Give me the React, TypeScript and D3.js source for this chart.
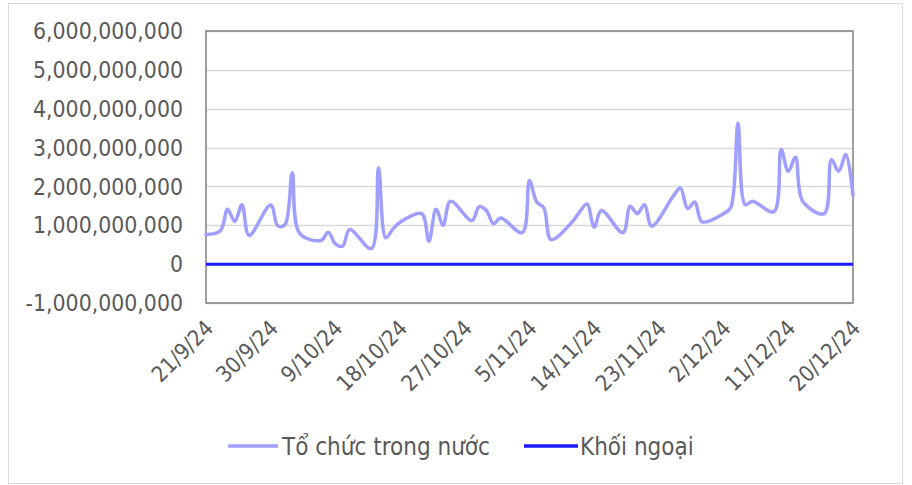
import React from 'react';
import * as d3 from 'd3';

// ngày giao dịch (d/m/yy)
const dates = [
  '21/9/24', '23/9/24', '24/9/24', '25/9/24', '26/9/24', '27/9/24', '30/9/24',
  '1/10/24', '2/10/24', '3/10/24', '4/10/24', '7/10/24', '8/10/24', '9/10/24', '10/10/24', '11/10/24',
  '14/10/24', '15/10/24', '16/10/24', '17/10/24', '18/10/24', '21/10/24', '22/10/24', '23/10/24',
  '24/10/24', '25/10/24', '28/10/24', '29/10/24', '30/10/24', '31/10/24',
  '1/11/24', '4/11/24', '5/11/24', '6/11/24', '7/11/24', '8/11/24', '11/11/24', '12/11/24',
  '13/11/24', '14/11/24', '15/11/24', '18/11/24', '19/11/24', '20/11/24', '21/11/24', '22/11/24',
  '25/11/24', '26/11/24', '27/11/24', '28/11/24', '29/11/24',
  '2/12/24', '3/12/24', '4/12/24', '5/12/24', '6/12/24', '9/12/24', '10/12/24', '11/12/24',
  '12/12/24', '13/12/24', '16/12/24', '17/12/24', '18/12/24', '19/12/24', '20/12/24',
];

// Tổ chức trong nước (tỷ đồng -> nhân 1e9)
const toChucTrongNuoc = [
  0.76, 0.86, 1.41, 1.10, 1.53, 0.74, 1.52,
  0.98, 1.02, 2.35, 0.80, 0.61, 0.82, 0.52, 0.46, 0.89,
  0.40, 2.48, 0.68, 0.90, 1.08, 1.30, 0.59, 1.41,
  1.00, 1.62, 1.12, 1.48, 1.38, 1.04,
  1.19, 0.81, 2.15, 1.60, 1.45, 0.63, 1.10, 1.35,
  1.55, 0.95, 1.38, 0.81, 1.49, 1.30, 1.53, 0.98,
  1.75, 1.96, 1.43, 1.60, 1.09,
  1.30, 1.46, 3.63, 1.53, 1.62, 1.35, 2.95, 2.39,
  2.75, 1.62, 1.30, 2.69, 2.39, 2.82, 1.77,
].map(v => v * 1e9);

// Khối ngoại
const khoiNgoai = dates.map(() => 0);

const yTicks = [-1e9, 0, 1e9, 2e9, 3e9, 4e9, 5e9, 6e9];
const xTickLabels = [
  '21/9/24', '30/9/24', '9/10/24', '18/10/24', '27/10/24', '5/11/24',
  '14/11/24', '23/11/24', '2/12/24', '11/12/24', '20/12/24',
];

const parse = d3.timeParse('%d/%m/%y');
const fmt = (v: number) => d3.format(',')(v).replace('\u2212', '-');

const W = 912;
const H = 485;
const M = { left: 206, right: 853, top: 31, bottom: 303 };
const FONT = '"DejaVu Sans Condensed", "DejaVu Sans", sans-serif';
const TEXT = '#595959';
const C1 = '#9f9fff';
const C2 = '#1a1aff';

export default function App() {
  const x = d3.scaleTime()
    .domain([parse('21/9/24')!, parse('20/12/24')!])
    .range([M.left, M.right]);
  const y = d3.scaleLinear().domain([-1e9, 6e9]).range([M.bottom, M.top]);

  const line = d3.line<number>()
    .x((_, i) => x(parse(dates[i])!))
    .y(v => y(v))
    .curve(d3.curveCatmullRom.alpha(0.5));

  return (
    <svg width={W} height={H} style={{ position: 'absolute', left: 0, top: 0 }}>
      <rect x={8.5} y={3.5} width={894} height={480} fill="#fff" stroke="#d9d9d9" />
      {yTicks.map(t => (
        <g key={t}>
          <line x1={M.left} x2={M.right} y1={Math.round(y(t)) + 0.5} y2={Math.round(y(t)) + 0.5}
            stroke="#d9d9d9" strokeWidth={1.5} />
          <text x={183} y={y(t)} dy="0.36em" textAnchor="end" fontFamily={FONT}
            fontSize={22.8} fill={TEXT}>{fmt(t)}</text>
        </g>
      ))}
      <rect x={M.left} y={M.top} width={M.right - M.left} height={M.bottom - M.top}
        fill="none" stroke="#808080" strokeWidth={1.5} />
      <path d={line(toChucTrongNuoc) || ''} fill="none" stroke={C1} strokeWidth={3.5}
        strokeLinejoin="round" strokeLinecap="round" />
      <path d={line(khoiNgoai) || ''} fill="none" stroke={C2} strokeWidth={3} />
      {xTickLabels.map(l => {
        const px = x(parse(l)!);
        return (
          <text key={l} transform={`translate(${px + 3},${324}) rotate(-45)`} dy="0.36em"
            textAnchor="end" fontFamily={FONT} fontSize={22} fill={TEXT}>{l}</text>
        );
      })}
      <g fontFamily={FONT} fontSize={24} fill={TEXT}>
        <line x1={228} x2={278} y1={446} y2={446} stroke={C1} strokeWidth={3.5} />
        <text x={282} y={446} dy="0.36em">Tổ chức trong nước</text>
        <line x1={524} x2={578} y1={446} y2={446} stroke={C2} strokeWidth={3.5} />
        <text x={580} y={446} dy="0.36em">Khối ngoại</text>
      </g>
    </svg>
  );
}
